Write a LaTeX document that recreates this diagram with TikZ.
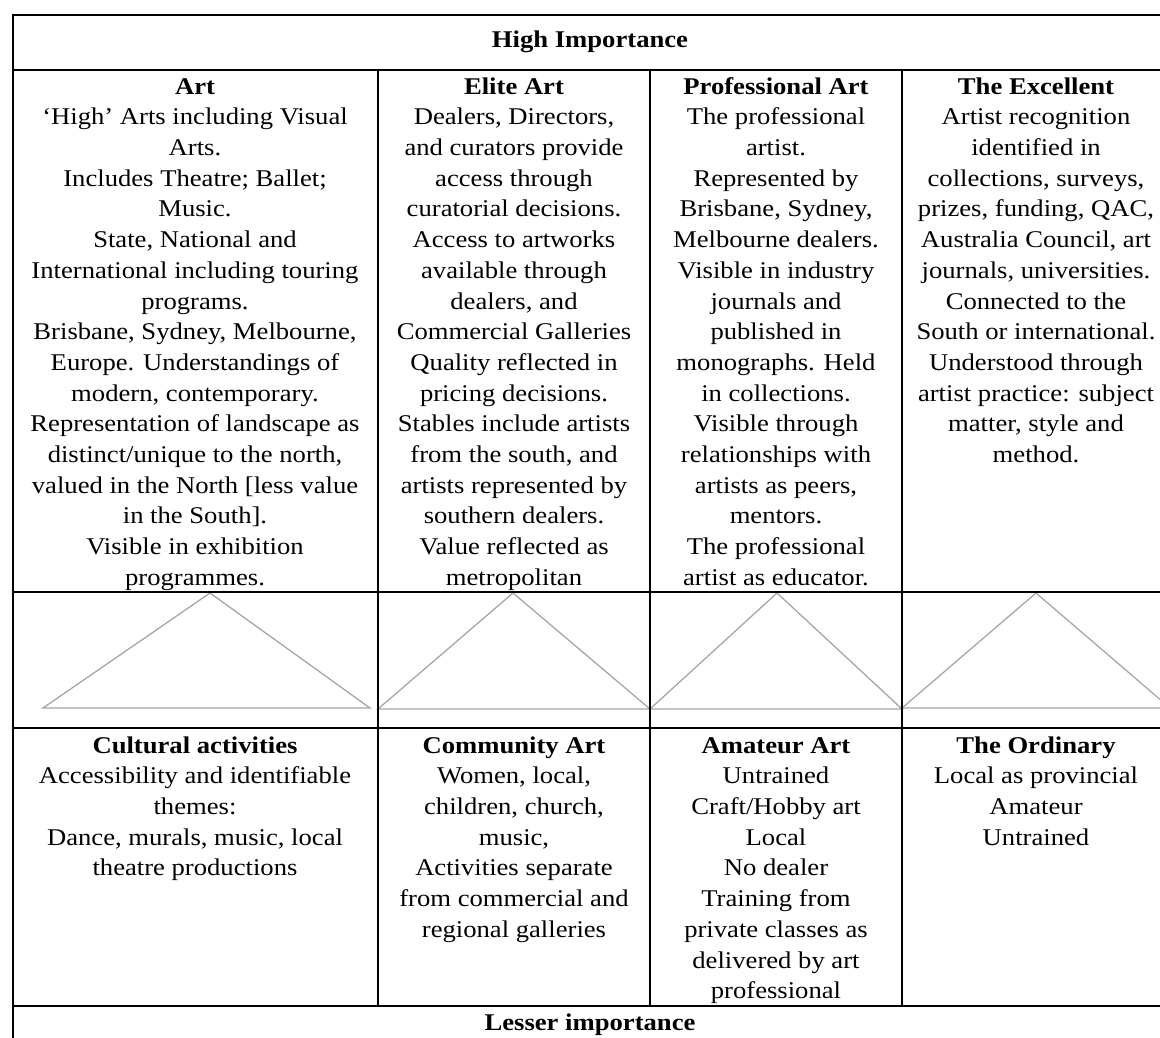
\documentclass[tikz,border=0pt]{standalone}
\usepackage{fontspec}
\setmainfont{Liberation Serif}[FakeStretch=1.11]
\definecolor{triGray}{HTML}{A6A6A6}
\begin{document}
\begin{tikzpicture}[x=1pt,y=-1pt,
  rule/.style={line width=1.3pt, draw=black},
  tri/.style={line width=1.3pt, draw=triGray, line join=miter},
  cell/.style={align=center, inner sep=0pt, anchor=north, font=\fontsize{24}{30.7}\selectfont},
  head/.style={inner sep=0pt, anchor=base, font=\fontsize{24}{30.7}\selectfont\bfseries}]

\useasboundingbox (0,0) rectangle (1160,1038);
\clip (0,0) rectangle (1160,1038);

% pyramids between the two tiers
\draw[tri] (43,708) -- (210,593) -- (370,708) -- cycle;
\draw[tri] (378,709) -- (513,593) -- (650,709) -- cycle;
\draw[tri] (650,709) -- (777,593) -- (902,709) -- cycle;
\draw[tri] (902,708) -- (1036,593) -- (1170,708) -- cycle;

% table rules
\draw[rule] (13,15) rectangle (1170,1060);
\draw[rule] (13,70) -- (1170,70);
\draw[rule] (13,592) -- (1170,592);
\draw[rule] (13,728) -- (1170,728);
\draw[rule] (13,1006) -- (1170,1006);
\foreach \x in {378,650,902} \draw[rule] (\x,70) -- (\x,1006);

% header and footer
\node[head] (high) at (590,48) {High Importance};
\node[head] (low) at (590,1030) {Lesser importance};

% upper tier (first baselines at y = 94)
\node[cell] (art) at (195,72.5) {\strut\textbf{Art}\\
‘High’ Arts including Visual\\
Arts.\\
Includes Theatre; Ballet;\\
Music.\\
State, National and\\
International including touring\\
programs.\\
Brisbane, Sydney, Melbourne,\\
Europe. Understandings of\\
modern, contemporary.\\
Representation of landscape as\\
distinct/unique to the north,\\
valued in the North [less value\\
in the South].\\
Visible in exhibition\\
programmes.};

\node[cell] (elite) at (514,72.5) {\strut\textbf{Elite Art}\\
Dealers, Directors,\\
and curators provide\\
access through\\
curatorial decisions.\\
Access to artworks\\
available through\\
dealers, and\\
Commercial Galleries\\
Quality reflected in\\
pricing decisions.\\
Stables include artists\\
from the south, and\\
artists represented by\\
southern dealers.\\
Value reflected as\\
metropolitan};

\node[cell] (pro) at (776,72.5) {\strut\textbf{Professional Art}\\
The professional\\
artist.\\
Represented by\\
Brisbane, Sydney,\\
Melbourne dealers.\\
Visible in industry\\
journals and\\
published in\\
monographs. Held\\
in collections.\\
Visible through\\
relationships with\\
artists as peers,\\
mentors.\\
The professional\\
artist as educator.};

\node[cell] (excel) at (1036,72.5) {\strut\textbf{The Excellent}\\
Artist recognition\\
identified in\\
collections, surveys,\\
prizes, funding, QAC,\\
Australia Council, art\\
journals, universities.\\
Connected to the\\
South or international.\\
Understood through\\
artist practice: subject\\
matter, style and\\
method.};

% lower tier (first baselines at y = 753)
\node[cell] (cult) at (195,731.5) {\strut\textbf{Cultural activities}\\
Accessibility and identifiable\\
themes:\\
Dance, murals, music, local\\
theatre productions};

\node[cell] (comm) at (514,731.5) {\strut\textbf{Community Art}\\
Women, local,\\
children, church,\\
music,\\
Activities separate\\
from commercial and\\
regional galleries};

\node[cell] (amat) at (776,731.5) {\strut\textbf{Amateur Art}\\
Untrained\\
Craft/Hobby art\\
Local\\
No dealer\\
Training from\\
private classes as\\
delivered by art\\
professional};

\node[cell] (ord) at (1036,731.5) {\strut\textbf{The Ordinary}\\
Local as provincial\\
Amateur\\
Untrained};

\end{tikzpicture}
\end{document}
